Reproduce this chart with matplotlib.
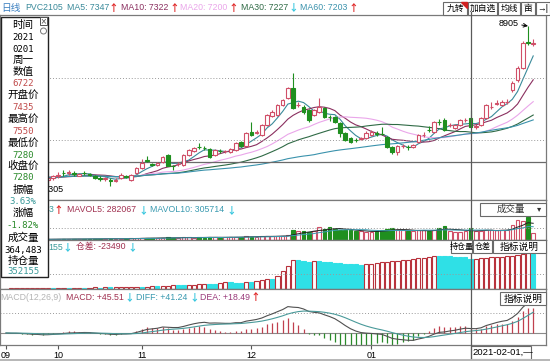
import numpy as np
import pandas as pd
import matplotlib
matplotlib.use('Agg')
import matplotlib.pyplot as plt
from matplotlib.patches import Rectangle, Circle

plt.rcParams['font.family'] = ['Liberation Sans', 'Noto Sans CJK SC', 'DejaVu Sans']

# PVC2105 daily bars
opens = [6500, 6520, 6490, 6510, 6480, 6470, 6440, 6460, 6430, 6470,
         6505, 6550, 6540, 6545, 6505, 6550, 6530, 6500, 6460, 6450,
         6440, 6420, 6466, 6500, 6433, 6546, 6626, 6760, 6680, 6680,
         6722, 6835, 6665, 6685, 6674, 6835, 6899, 6965, 6950, 6931,
         6835, 6905, 6895, 6883, 6915, 7043, 6979, 7204, 7195, 7156,
         7316, 7460, 7477, 7637, 7749, 7910, 7630, 7605, 7557, 7477,
         7525, 7589, 7450, 7444, 7348, 7188, 7107, 7080, 7095, 7107,
         7156, 7180, 7175, 7123, 6963, 6883, 6975, 6970, 6963, 7043,
         7150, 7240, 7204, 7370, 7396, 7310, 7268, 7316, 7390, 7435,
         7284, 7316, 7428, 7600, 7660, 7637, 7680, 7878, 8038, 8231,
         8650, 8620]
highs = [6540, 6560, 6530, 6550, 6520, 6500, 6480, 6490, 6480, 6520,
         6560, 6590, 6600, 6570, 6550, 6580, 6550, 6520, 6490, 6480,
         6470, 6470, 6540, 6520, 6530, 6640, 6770, 6820, 6710, 6720,
         6820, 6850, 6680, 6720, 6850, 6930, 6960, 7027, 6980, 6950,
         6930, 6930, 6920, 6950, 7040, 7060, 7200, 7364, 7230, 7330,
         7490, 7560, 7660, 7740, 7930, 8150, 7680, 7640, 7570, 7580,
         7749, 7600, 7480, 7460, 7360, 7200, 7120, 7110, 7130, 7220,
         7230, 7220, 7280, 7140, 6980, 7000, 7010, 6990, 7010, 7170,
         7200, 7300, 7380, 7410, 7430, 7350, 7330, 7410, 7430, 7550,
         7330, 7440, 7660, 7680, 7720, 7720, 7740, 8020, 8260, 8660,
         8905, 8700]
lows = [6460, 6480, 6450, 6470, 6440, 6420, 6400, 6305, 6400, 6440,
        6470, 6500, 6510, 6500, 6490, 6510, 6490, 6450, 6420, 6420,
        6337, 6400, 6450, 6460, 6420, 6530, 6610, 6720, 6650, 6660,
        6700, 6650, 6594, 6660, 6660, 6820, 6890, 6930, 6920, 6790,
        6820, 6870, 6870, 6870, 6900, 6960, 6970, 7140, 7170, 7140,
        7300, 7440, 7460, 7620, 7730, 7570, 7600, 7500, 7370, 7460,
        7510, 7430, 7380, 7350, 7130, 7060, 7020, 7040, 7070, 7090,
        7140, 7140, 7150, 6950, 6850, 6830, 6950, 6910, 6950, 7030,
        7130, 7200, 7190, 7320, 7220, 7280, 7250, 7300, 7370, 7280,
        7250, 7300, 7410, 7570, 7630, 7620, 7650, 7850, 8010, 8210,
        8600, 8580]
closes = [6520, 6490, 6510, 6480, 6470, 6440, 6460, 6430, 6470, 6500,
          6520, 6540, 6555, 6525, 6525, 6540, 6510, 6460, 6450, 6460,
          6420, 6440, 6514, 6482, 6514, 6626, 6706, 6745, 6674, 6700,
          6803, 6658, 6655, 6695, 6835, 6915, 6947, 6955, 6940, 6803,
          6915, 6895, 6900, 6931, 7027, 6979, 7188, 7156, 7205, 7316,
          7477, 7520, 7637, 7717, 7910, 7589, 7640, 7525, 7396, 7557,
          7605, 7444, 7440, 7364, 7188, 7075, 7043, 7070, 7107, 7188,
          7204, 7170, 7165, 6963, 6883, 6979, 6985, 6960, 6995, 7156,
          7160, 7230, 7364, 7360, 7236, 7320, 7316, 7396, 7400, 7280,
          7300, 7428, 7637, 7610, 7670, 7685, 7690, 7990, 8231, 8632,
          8632, 8640]
# volume, thousand lots
volumes = [15, 18, 20, 16, 22, 18, 20, 25, 22,
           30, 28, 32, 26, 30, 35, 28, 40, 38, 32, 45, 36, 40, 38, 42, 48,
           55, 70, 60, 52, 58, 75, 85, 62, 60, 78, 82, 70, 90, 72, 95, 80,
           75, 82, 88, 95, 90,
           110, 105, 100, 120, 115, 110, 125, 130, 140,
           290,
           260, 280, 240, 270, 400,
           320, 390, 330, 300, 310, 290, 270, 260, 250, 240,
           280, 300, 320, 370, 300, 290, 280, 260, 300,
           290, 280, 300, 357, 420,
           280, 240, 256, 270,
           364.483,
           260, 280, 300, 290, 300, 310, 300,
           450, 600, 580, 700, 210]
# open interest, thousand lots
open_interest = [5, 6, 7, 7.5, 8, 8.5, 9, 10, 11,
                 10.5, 12, 13, 12.5, 14, 15, 14, 16, 18, 17, 19, 18.5,
                 20, 22, 24, 26,
                 28, 27, 29, 31, 30,
                 35, 40, 45, 44, 42,
                 46, 50, 54, 58, 56, 54, 70, 80, 78, 76, 74, 85, 83,
                 95, 108, 120, 116,
                 150, 210, 270, 340,
                 335, 328, 322, 330,
                 325, 320, 314, 308, 303, 298, 294, 290, 286, 292,
                 298, 305, 312, 318, 325, 332, 338, 345, 352, 360, 368, 376,
                 392, 388, 385, 382, 380, 378, 375.645, 352.155,
                 356, 360, 366, 370, 374, 378, 382, 390, 398, 408, 418, 405]
month_pos = [0, 10, 26, 47, 70]
month_labels = ['09', '10', '11', '12', '01']
cursor_bar = 89
cursor_price = 6722
cursor_date = '2021-02-01,—'
ma_windows = [5, 10, 20, 30, 60]
ma_colors = ['#3a8a9a', '#8a2f5f', '#eaa6ea', '#2f6a45', '#3a92ac']

info_rows = [('时间', '#000000'), ('2021', '#000000'), ('0201', '#000000'),
             ('周一', '#000000'), ('数值', '#000000'), ('6722', '#c04a4a'),
             ('开盘价', '#000000'), ('7435', '#c04a4a'), ('最高价', '#000000'),
             ('7550', '#c04a4a'), ('最低价', '#000000'), ('7280', '#2a8a2a'),
             ('收盘价', '#000000'), ('7280', '#2a8a2a'), ('振幅', '#000000'),
             ('3.63%', '#3a9a9a'), ('涨幅', '#000000'), ('-1.82%', '#2a8a2a'),
             ('成交量', '#000000'), ('364,483', '#000000'), ('持仓量', '#000000'),
             ('352155', '#3a9a9a')]
info_y = [25, 37, 49, 60, 72, 83, 96, 108, 119, 131, 143, 155, 166, 178,
          190, 202, 213, 225, 238, 250, 261, 272]

UP = '#d04f68'
DN = '#1f8f1f'
RED_ARR = '#e02828'
CY_ARR = '#36c6de'
W, H = 550, 361
FS = 6.3


def rect(x0, y0, x1, y1):
    return [x0 / W, 1 - y1 / H, (x1 - x0) / W, (y1 - y0) / H]


fig = plt.figure(figsize=(5.5, 3.61), dpi=100)
ax_p = fig.add_axes(rect(0, 15, 546, 200))
ax_v = fig.add_axes(rect(0, 200, 546, 240))
ax_oi = fig.add_axes(rect(0, 240, 546, 289))
ax_m = fig.add_axes(rect(0, 289, 546, 345))

x = np.arange(len(closes))
o = np.array(opens, float)
h = np.array(highs, float)
l = np.array(lows, float)
c = np.array(closes, float)
up = c >= o
xlim = (-1.15, 103.45)

for ax in (ax_p, ax_v, ax_oi, ax_m):
    ax.set_xlim(*xlim)
    ax.set_yticks([])
    ax.set_xticks([])
    for s in ax.spines.values():
        s.set_color('#7a7a7a')
        s.set_linewidth(0.9)

# price panel
ax_p.set_ylim(6112, 9082)
for f in (0.659, 0.324):
    ax_p.plot([0, 1], [f, f], transform=ax_p.transAxes, color='#9a9a9a',
              lw=0.7, ls=(0, (1, 2)))
ax_p.axhline(cursor_price, color='#6a6a6a', lw=0.9)
cs = pd.Series(c)
for n, col in zip(ma_windows, ma_colors):
    ax_p.plot(x, cs.rolling(n, min_periods=1).mean(), color=col, lw=0.8, zorder=1)
ax_p.vlines(x, l, h, colors=np.where(up, UP, DN), lw=0.8, zorder=2)
body = np.maximum(np.abs(c - o), 8)
ax_p.bar(x, body, bottom=np.minimum(o, c), width=0.7,
         facecolor=np.where(up, 'white', DN), edgecolor=np.where(up, UP, DN),
         lw=0.8, zorder=3)
top = int(np.argmax(h))
ax_p.annotate(f'{h[top]:.0f}', xy=(top, h[top]), xytext=(-9, 3),
              textcoords='offset pixels', ha='right', va='center', fontsize=6.5,
              arrowprops=dict(arrowstyle='->', lw=0.7, color='black',
                              shrinkA=0, shrinkB=0))
low = int(np.argmin(l))
ax_p.annotate(f'{l[low]:.0f}', xy=(low, l[low]), xytext=(1, -2),
              textcoords='offset pixels', ha='left', va='center', fontsize=6.5)

# volume panel
vol = np.array(volumes, float)
ax_v.set_ylim(0, 1216)
ax_v.plot([0, 1], [0.3, 0.3], transform=ax_v.transAxes, color='#9a9a9a',
          lw=0.7, ls=(0, (1, 2)))
ax_v.bar(x, vol, width=0.7, facecolor=np.where(up, 'white', DN),
         edgecolor=np.where(up, UP, DN), lw=0.8)
vs = pd.Series(vol)
ax_v.plot(x, vs.rolling(5, min_periods=1).mean(), color='#222222', lw=0.7)
ax_v.plot(x, vs.rolling(10, min_periods=1).mean(), color='#3a9ab0', lw=0.7)

# open interest panel
oi = np.array(open_interest, float)
oi_up = np.diff(oi, prepend=oi[0] - 1) >= 0
ax_oi.set_ylim(0, 575)
ax_oi.plot([0, 1], [0.306, 0.306], transform=ax_oi.transAxes, color='#9a9a9a',
           lw=0.7, ls=(0, (1, 2)))
ax_oi.bar(x, oi, width=0.8, facecolor=np.where(oi_up, 'white', '#2fe0e6'),
          edgecolor=np.where(oi_up, '#b8323c', '#2fe0e6'), lw=0.8)

# MACD panel
dif = cs.ewm(span=12, adjust=False).mean() - cs.ewm(span=26, adjust=False).mean()
dea = dif.ewm(span=9, adjust=False).mean()
macd = 2 * (dif - dea)
ax_m.set_ylim(-120, 440)
ax_m.plot([0, 1], [0.571, 0.571], transform=ax_m.transAxes, color='#9a9a9a',
          lw=0.7, ls=(0, (1, 2)))
ax_m.axhline(0, color='#8a8a8a', lw=0.8)
ax_m.vlines(x, 0, macd, colors=np.where(macd >= 0, '#c0404f', '#2a8a2a'), lw=0.9)
ax_m.plot(x, dif, color='#505050', lw=0.8)
ax_m.plot(x, dea, color='#4a9a9a', lw=0.8)
ax_m.set_xticks(month_pos)
ax_m.set_xticklabels(month_labels, fontsize=6.5)
ax_m.tick_params(axis='x', length=3, pad=1, color='#555555')

for ax in (ax_p, ax_v, ax_oi, ax_m):
    ax.axvline(cursor_bar, color='#5a5a5a', lw=0.9, zorder=4)

# overlay in pixel units for texts, boxes and buttons
ov = fig.add_axes([0, 0, 1, 1], zorder=10)
ov.set_xlim(0, W)
ov.set_ylim(H, 0)
ov.axis('off')
cx = ax_p.transData.transform((cursor_bar, 0))[0]
ov.plot([cx, cx], [12, 15], color='#5a5a5a', lw=0.9)
ov.plot([cx, cx], [345, 358], color='#5a5a5a', lw=0.9)


def seg(xp, yp, s, col, fs=FS, ha='left'):
    ov.text(xp, yp, s, color=col, fontsize=fs, va='center', ha=ha)


def arrow(xp, yp, up_arrow):
    ov.text(xp, yp, '↑' if up_arrow else '↓', color=RED_ARR if up_arrow else CY_ARR,
            fontsize=7, fontweight='bold', va='center', ha='left',
            family=['Noto Sans CJK SC', 'DejaVu Sans'])


# title bar
seg(1, 7.5, '日线', '#3a7fc0', 7)
seg(25, 7.5, 'PVC2105', '#3a8a9a')
seg(67, 7.5, 'MA5: 7347', ma_colors[0])
arrow(108, 7.5, True)
seg(121, 7.5, 'MA10: 7322', ma_colors[1])
arrow(169, 7.5, True)
seg(180, 7.5, 'MA20: 7200', ma_colors[2])
arrow(228, 7.5, True)
seg(241, 7.5, 'MA30: 7227', ma_colors[3])
arrow(288, 7.5, False)
seg(300, 7.5, 'MA60: 7203', ma_colors[4])
arrow(348, 7.5, True)

# buttons
for bx0, bx1, lab in [(443, 467, '九转'), (468, 497, '加自选'), (498, 520, '均线'),
                      (521, 535, '亩'), (536, 550, '→|')]:
    ov.add_patch(Rectangle((bx0, 2), bx1 - bx0, 13, facecolor='white',
                           edgecolor='#6a6a6a', lw=0.8))
    ov.text((bx0 + bx1) / 2, 8.5, lab, fontsize=6.3, ha='center', va='center')
ov.add_patch(plt.Polygon([[461, 2], [467, 2], [467, 8]], color='#d02020'))

# panel titles (their left parts are hidden by the info box)
seg(48.5, 210, '3', '#3a9a9a')
arrow(53, 210, True)
seg(67, 210, 'MAVOL5: 282067', '#a03050')
arrow(138, 210, False)
seg(150, 210, 'MAVOL10: 305714', '#3a9ab0')
arrow(226, 210, False)
ov.add_patch(Rectangle((480, 203), 66, 13, facecolor='white',
                       edgecolor='#6a6a6a', lw=0.8))
seg(497, 209.5, '成交量', '#333333', 6.8)
seg(537, 209.5, '▾', '#333333', 6)

seg(48.5, 247, '155', '#3a9a9a')
arrow(62, 247, False)
seg(76, 247, '仓差: -23490', '#a03050')
arrow(127, 247, False)
for bx0, bx1, lab in [(451, 472, '持仓量'), (473, 492, '仓差'), (493, 546, '指标说明')]:
    ov.add_patch(Rectangle((bx0, 240), bx1 - bx0, 13, facecolor='white',
                           edgecolor='#6a6a6a', lw=0.8))
    ov.text((bx0 + bx1) / 2, 246.5, lab, fontsize=5.8 if bx1 - bx0 < 25 else 7,
            ha='center', va='center')

seg(0, 297, 'MACD(12,26,9)', '#b4b4b4')
seg(66, 297, 'MACD: +45.51', '#a03050')
arrow(124, 297, False)
seg(136, 297, 'DIFF: +41.24', '#3a9ab0')
arrow(189, 297, False)
seg(200, 297, 'DEA: +18.49', '#9a3a7a')
arrow(250, 297, True)
ov.add_patch(Rectangle((500, 292), 46, 13, facecolor='white',
                       edgecolor='#6a6a6a', lw=0.8))
ov.text(523, 298.5, '指标说明', fontsize=7, ha='center', va='center')

# cursor date box
ov.add_patch(Rectangle((cx, 346), 60, 13, facecolor='white',
                       edgecolor='#6a6a6a', lw=0.8))
ov.text(cx + 2, 352.5, cursor_date, fontsize=6.8, ha='left', va='center')
ov.add_patch(Rectangle((0, 358.5), W, 3, facecolor='#b8b8b8', lw=0))

# info box on the left
ov.add_patch(Rectangle((1, 17), 47, 260, facecolor='white', edgecolor='#222222',
                       lw=1, zorder=5))
for (s, col), yy in zip(info_rows, info_y):
    if s[0].isdigit() or s[0] == '-':
        ov.text(23, yy, s, color=col, fontsize=6.5, ha='center', va='center',
                family='DejaVu Sans Mono', zorder=6)
    else:
        ov.text(23, yy, s, color=col, fontsize=7.6, ha='center', va='center',
                zorder=6)
ov.add_patch(Rectangle((40, 17), 7, 8, facecolor='white', edgecolor='#555555',
                       lw=0.7, zorder=6))
ov.text(43.5, 21, '×', fontsize=7, ha='center', va='center', color='#555555', zorder=7)
ov.add_patch(Circle((43.5, 31), 3, facecolor='white', edgecolor='#777777', lw=0.7,
                    zorder=6))

fig.savefig('out.png', dpi=100)
